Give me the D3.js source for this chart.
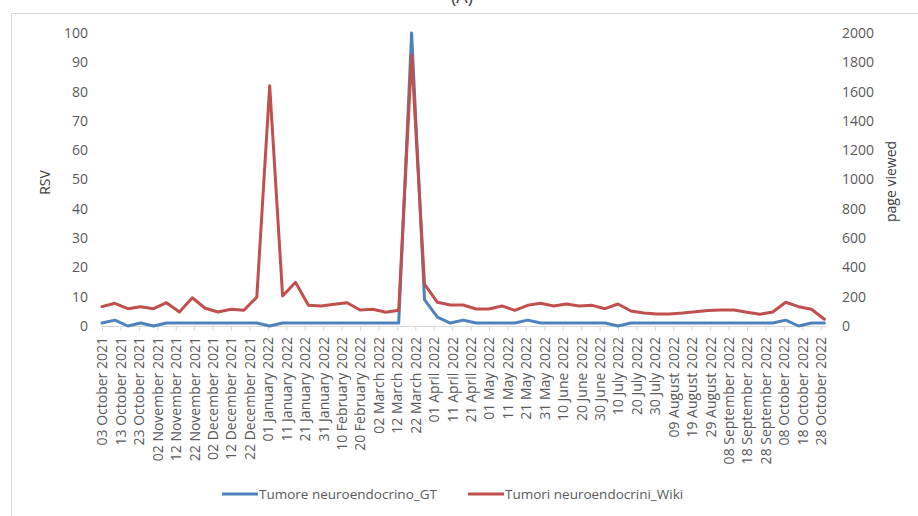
<!DOCTYPE html>
<html>
<head>
<meta charset="utf-8">
<script src="https://cdn.jsdelivr.net/npm/d3@7"></script>
<style>
  html, body { margin: 0; padding: 0; background: #fff; }
  svg { display: block; font-family: "Open Sans", "Liberation Sans", sans-serif; }
</style>
</head>
<body>
<svg id="chart" width="918" height="516"></svg>
<script>
// Weekly observation dates (week starting)
const weeks = [
  "2021-10-03","2021-10-10","2021-10-17","2021-10-24","2021-10-31","2021-11-07","2021-11-14",
  "2021-11-21","2021-11-28","2021-12-05","2021-12-12","2021-12-19","2021-12-26","2022-01-02",
  "2022-01-09","2022-01-16","2022-01-23","2022-01-30","2022-02-06","2022-02-13","2022-02-20",
  "2022-02-27","2022-03-06","2022-03-13","2022-03-20","2022-03-27","2022-04-03","2022-04-10",
  "2022-04-17","2022-04-24","2022-05-01","2022-05-08","2022-05-15","2022-05-22","2022-05-29",
  "2022-06-05","2022-06-12","2022-06-19","2022-06-26","2022-07-03","2022-07-10","2022-07-17",
  "2022-07-24","2022-07-31","2022-08-07","2022-08-14","2022-08-21","2022-08-28","2022-09-04",
  "2022-09-11","2022-09-18","2022-09-25","2022-10-02","2022-10-09","2022-10-16","2022-10-23",
  "2022-10-30"
];

// Google Trends relative search volume (left axis)
const rsvGT = [
  1, 2, 0, 1, 0, 1, 1, 1, 1, 1, 1, 1, 1, 0,
  1, 1, 1, 1, 1, 1, 1, 1, 1, 1, 100, 9, 3, 1,
  2, 1, 1, 1, 1, 2, 1, 1, 1, 1, 1, 1, 0, 1,
  1, 1, 1, 1, 1, 1, 1, 1, 1, 1, 1, 2, 0, 1,
  1
];

// Wikipedia page views (right axis)
const viewsWiki = [
  132, 155, 118, 132, 118, 159, 96, 193, 121, 96, 114, 107, 197, 1640,
  205, 298, 141, 137, 148, 159, 109, 114, 94, 107, 1850, 285, 162, 143,
  143, 116, 116, 137, 107, 141, 155, 137, 150, 137, 141, 118, 150, 102,
  89, 82, 82, 89, 98, 105, 109, 109, 94, 80, 96, 162, 132, 114,
  46
];

// Date axis tick labels, every ten days
const tickDates = [
  "2021-10-03","2021-10-13","2021-10-23","2021-11-02","2021-11-12","2021-11-22","2021-12-02",
  "2021-12-12","2021-12-22","2022-01-01","2022-01-11","2022-01-21","2022-01-31","2022-02-10",
  "2022-02-20","2022-03-02","2022-03-12","2022-03-22","2022-04-01","2022-04-11","2022-04-21",
  "2022-05-01","2022-05-11","2022-05-21","2022-05-31","2022-06-10","2022-06-20","2022-06-30",
  "2022-07-10","2022-07-20","2022-07-30","2022-08-09","2022-08-19","2022-08-29","2022-09-08",
  "2022-09-18","2022-09-28","2022-10-08","2022-10-18","2022-10-28"
];

const leftTicks = [0, 10, 20, 30, 40, 50, 60, 70, 80, 90, 100];
const rightTicks = [0, 200, 400, 600, 800, 1000, 1200, 1400, 1600, 1800, 2000];

const seriesNames = ["Tumore neuroendocrino_GT", "Tumori neuroendocrini_Wiki"];
const seriesColors = ["#4f81bd", "#c0504d"];

const parse = d3.utcParse("%Y-%m-%d");
const fmt = d3.utcFormat("%d %B %Y");
const textColor = "#595959";
const fontStack = "'Open Sans', 'Liberation Sans', sans-serif";

const svg = d3.select("#chart");

// outer chart frame
svg.append("rect")
  .attr("x", 11.5).attr("y", 13.5)
  .attr("width", 930).attr("height", 530)
  .attr("fill", "none").attr("stroke", "#d9d9d9").attr("stroke-width", 1);

// panel tag
svg.append("text")
  .attr("x", 462).attr("y", 3)
  .attr("text-anchor", "middle")
  .attr("font-size", 18)
  .attr("fill", "#404040")
  .text("(A)");

const plot = { left: 102, right: 824.4, top: 33, bottom: 326 };

const x = d3.scaleUtc()
  .domain([parse(weeks[0]), parse(weeks[weeks.length - 1])])
  .range([plot.left, plot.right]);

const yL = d3.scaleLinear().domain([0, 100]).range([plot.bottom, plot.top]);
const yR = d3.scaleLinear().domain([0, 2000]).range([plot.bottom, plot.top]);

// bottom date axis
const xAxis = d3.axisBottom(x)
  .tickValues(tickDates.map(parse))
  .tickFormat(fmt)
  .tickSizeInner(5)
  .tickSizeOuter(0);

const gx = svg.append("g")
  .attr("transform", `translate(0,${plot.bottom})`)
  .call(xAxis);
gx.select(".domain").attr("stroke", "#d9d9d9").attr("stroke-width", 1)
  .attr("d", `M${plot.left - 1},0.5H${plot.right + 2}`);
gx.selectAll(".tick line").attr("stroke", "#d9d9d9");
gx.selectAll(".tick text")
  .attr("fill", textColor)
  .attr("font-size", 14)
  .attr("font-family", fontStack)
  .attr("text-anchor", "end")
  .attr("transform", "rotate(-90)")
  .attr("x", -11)
  .attr("y", 0)
  .attr("dy", "0.35em");

// left axis (RSV)
const gl = svg.append("g")
  .attr("transform", `translate(${plot.left - 14},0)`)
  .call(d3.axisLeft(yL).tickValues(leftTicks).tickSize(0).tickPadding(0));
gl.select(".domain").remove();
gl.selectAll("text")
  .attr("fill", textColor).attr("font-size", 14)
  .attr("font-family", fontStack);

// right axis (page views)
const gr = svg.append("g")
  .attr("transform", `translate(${842},0)`)
  .call(d3.axisRight(yR).tickValues(rightTicks).tickFormat(d3.format("d"))
    .tickSize(0).tickPadding(0));
gr.select(".domain").remove();
gr.selectAll("text")
  .attr("fill", textColor).attr("font-size", 14)
  .attr("font-family", fontStack);

// axis titles
svg.append("text")
  .attr("transform", `translate(50,${(plot.top + plot.bottom) / 2 + 3}) rotate(-90)`)
  .attr("text-anchor", "middle")
  .attr("font-size", 14).attr("fill", "#404040")
  .text("RSV");

svg.append("text")
  .attr("transform", `translate(896,${(plot.top + plot.bottom) / 2 + 2}) rotate(-90)`)
  .attr("text-anchor", "middle")
  .attr("font-size", 14).attr("fill", "#404040")
  .text("page viewed");

// series lines
const lineL = d3.line()
  .x((d, i) => x(parse(weeks[i])))
  .y(d => yL(d));
const lineR = d3.line()
  .x((d, i) => x(parse(weeks[i])))
  .y(d => yR(d));

svg.append("path")
  .datum(rsvGT)
  .attr("d", lineL)
  .attr("fill", "none")
  .attr("stroke", seriesColors[0])
  .attr("stroke-width", 3)
  .attr("stroke-linejoin", "round")
  .attr("stroke-linecap", "round");

svg.append("path")
  .datum(viewsWiki)
  .attr("d", lineR)
  .attr("fill", "none")
  .attr("stroke", seriesColors[1])
  .attr("stroke-width", 3)
  .attr("stroke-linejoin", "round")
  .attr("stroke-linecap", "round");

// legend
const legend = svg.append("g").attr("transform", "translate(0,494)");
const legendX = [222, 468];
seriesNames.forEach((name, i) => {
  const g = legend.append("g").attr("transform", `translate(${legendX[i]},0)`);
  g.append("line")
    .attr("x1", 0).attr("x2", 36).attr("y1", 0).attr("y2", 0)
    .attr("stroke", seriesColors[i]).attr("stroke-width", 3);
  g.append("text")
    .attr("x", 37).attr("y", 0).attr("dy", "0.35em")
    .attr("font-size", 13.5).attr("fill", textColor)
    .text(name);
});
</script>
</body>
</html>
